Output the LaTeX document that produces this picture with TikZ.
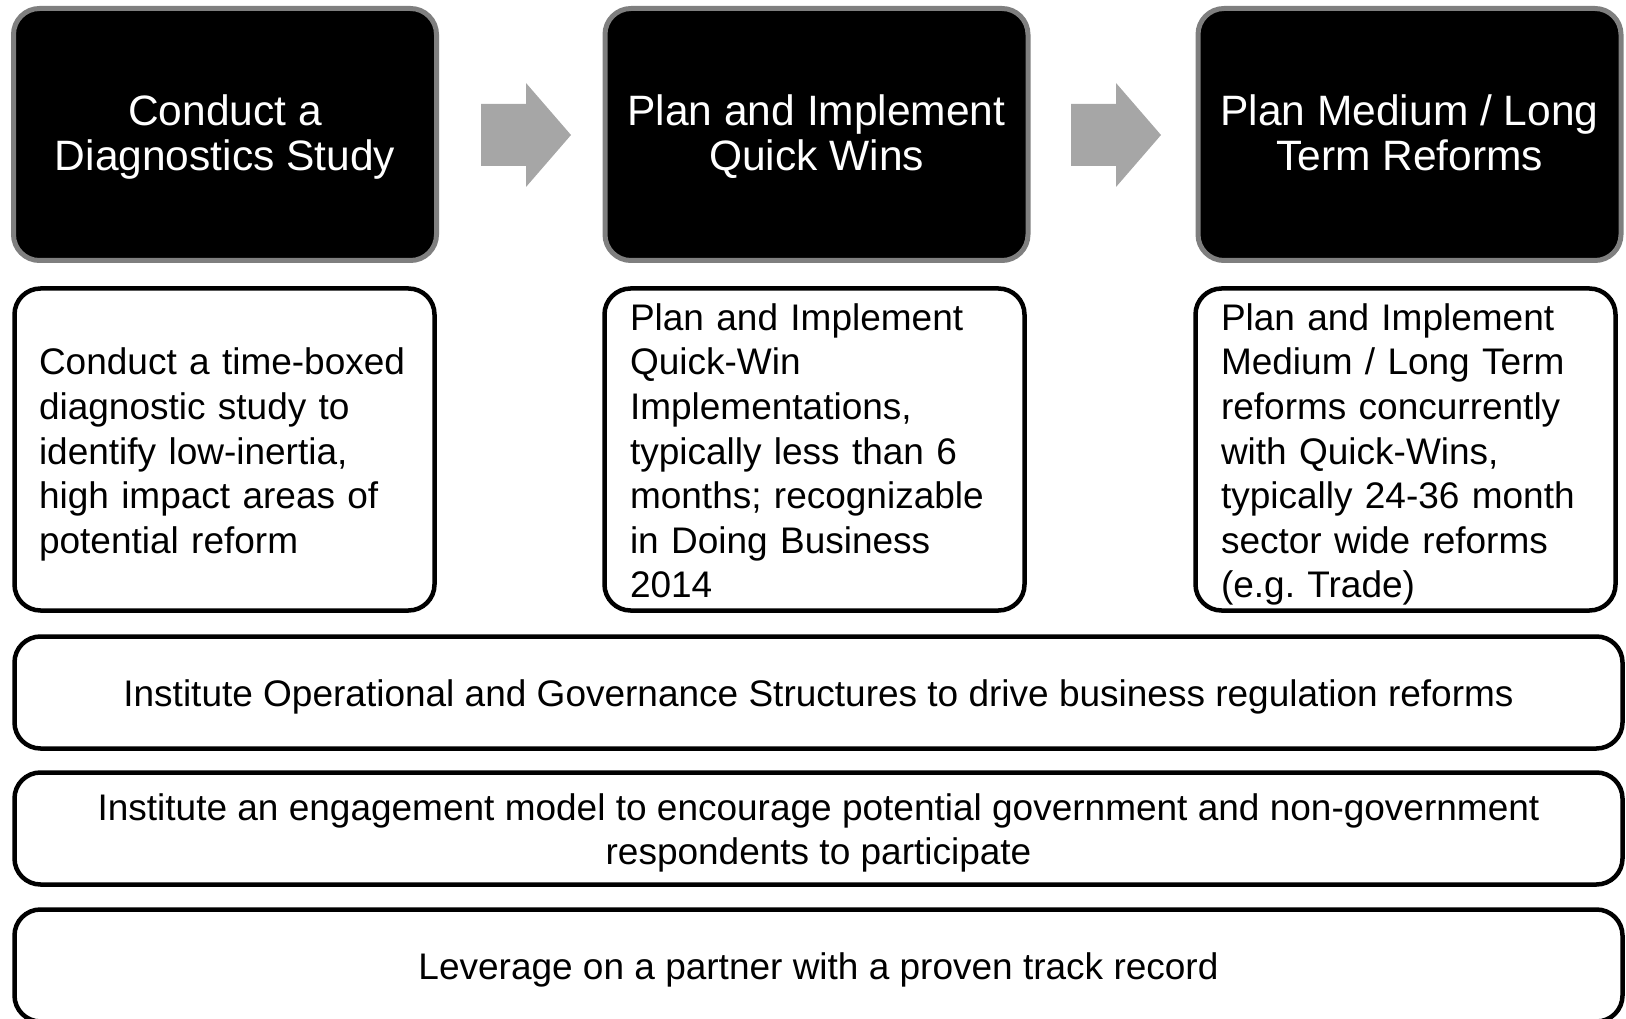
\documentclass[tikz,border=0pt]{standalone}
\usepackage{fontspec}
\setmainfont{Liberation Sans}
\frenchspacing
\definecolor{hdrborder}{HTML}{7F7F7F}
\definecolor{arrowgray}{HTML}{A6A6A6}
\newcommand\upstrut[1]{\rule{0pt}{#1}}
\newcommand\downstrut{\rule[-10pt]{0pt}{10pt}}
\begin{document}
\begin{tikzpicture}[x=1pt,y=-1pt,
  hdr/.style={draw=hdrborder, line width=5pt, fill=black, rounded corners=26pt,
    minimum width=423pt, minimum height=252pt, inner sep=0pt, text=white,
    align=center, font=\fontsize{42.5}{44.5}\selectfont},
  desc/.style={draw=black, line width=4.5pt, fill=white, rounded corners=26pt,
    minimum width=420pt, minimum height=322pt, inner sep=0pt,
    align=left, font=\fontsize{37}{44.6}\selectfont},
  wide/.style={draw=black, line width=4.5pt, fill=white, rounded corners=26pt,
    minimum width=1608pt, minimum height=112pt, inner sep=0pt,
    align=center, font=\fontsize{37}{43.5}\selectfont},
  blockarrow/.style={fill=arrowgray, draw=none}
]
\useasboundingbox (0,0) rectangle (1626,1019);
\begin{scope}
\clip (0,0) rectangle (1626,1019);
% header boxes
\node[hdr] (h1) at (225,134.5) {\upstrut{37.5pt}Conduct a\\Diagnostics Study\downstrut};
\node[hdr] (h2) at (816.5,134.5) {\upstrut{37.5pt}Plan and Implement\\Quick Wins\downstrut};
\node[hdr] (h3) at (1409.5,134.5) {\upstrut{37.5pt}Plan Medium / Long\\Term Reforms\downstrut};
% block arrows
\coordinate (a1) at (481,135);
\coordinate (a2) at (1071,135);
\foreach \a in {a1,a2}{
  \fill[blockarrow] (\a) ++(0,-31) -- ++(45,0) -- ++(0,-21) -- ++(45,52) -- ++(-45,52) -- ++(0,-21) -- ++(-45,0) -- cycle;
}
% description boxes
\node[desc, text width=371pt] (d1) at (224.5,449.5) {\upstrut{39pt}Conduct a time-boxed\\diagnostic study to\\identify low-inertia,\\high impact areas of\\potential reform\downstrut};
\node[desc, text width=369pt] (d2) at (814.5,449.5) {\upstrut{39pt}Plan and Implement\\Quick-Win\\Implementations,\\typically less than 6\\months; recognizable\\in Doing Business\\2014\downstrut};
\node[desc, text width=369pt] (d3) at (1405.5,449.5) {\upstrut{39pt}Plan and Implement\\Medium / Long Term\\reforms concurrently\\with Quick-Wins,\\typically 24-36 month\\sector wide reforms\\(e.g. Trade)\downstrut};
% wide boxes
\node[wide] (w1) at (818.5,692.5) {\upstrut{38pt}Institute Operational and Governance Structures to drive business regulation reforms\downstrut};
\node[wide] (w2) at (818.5,828.5) {\upstrut{38pt}Institute an engagement model to encourage potential government and non-government\\respondents to participate\downstrut};
\node[wide] (w3) at (818.5,965.5) {\upstrut{38pt}Leverage on a partner with a proven track record\downstrut};
\end{scope}
\end{tikzpicture}
\end{document}
